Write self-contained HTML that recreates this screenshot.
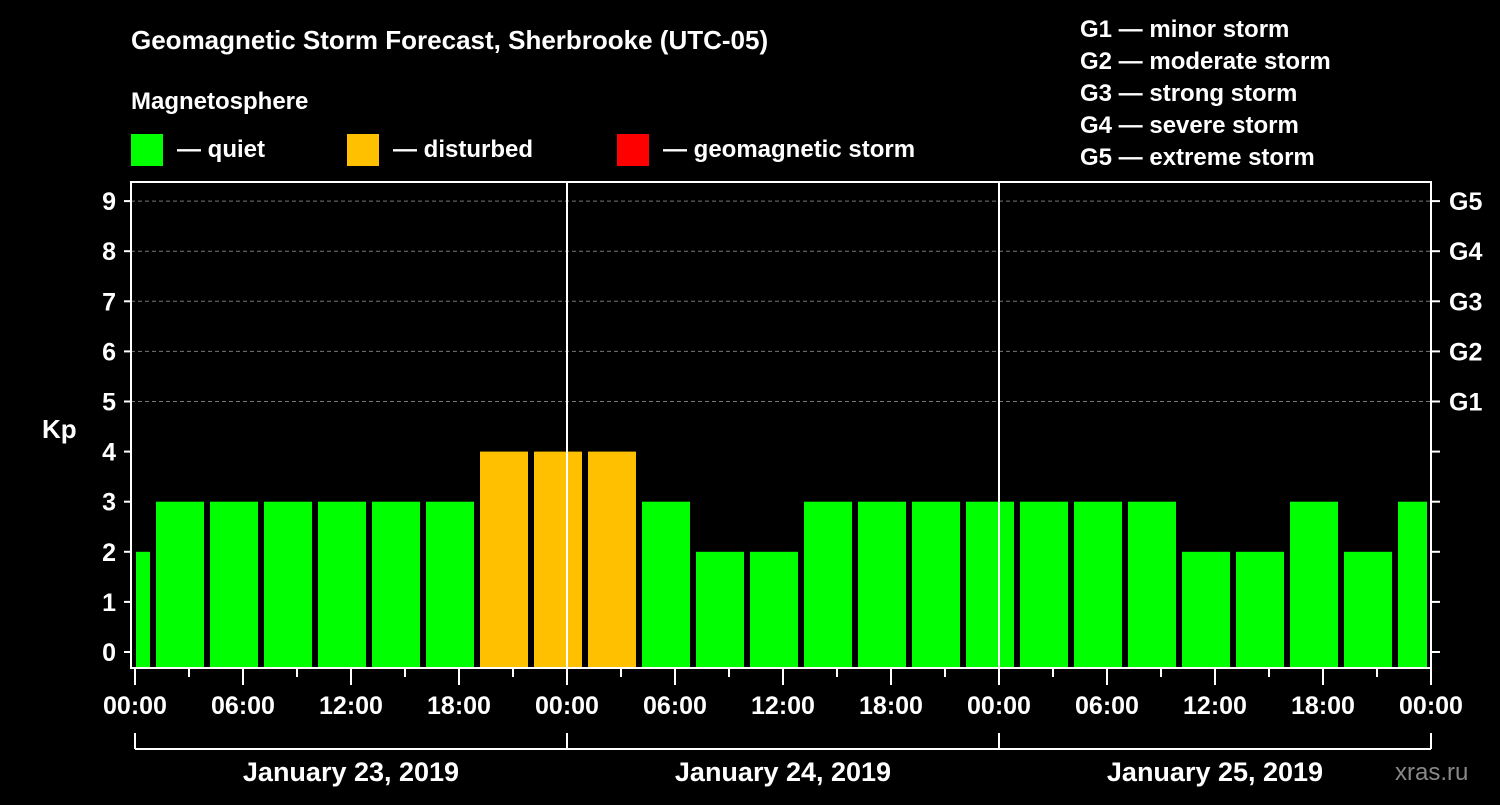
<!DOCTYPE html>
<html><head><meta charset="utf-8"><style>
body{margin:0;background:#000;width:1500px;height:800px;overflow:hidden}
svg text{font-family:"Liberation Sans",sans-serif;font-weight:bold;fill:#fff}
</style></head><body>
<svg id="c" width="1500" height="800">
<text x="131" y="49" font-size="26">Geomagnetic Storm Forecast, Sherbrooke (UTC-05)</text>
<text x="131" y="109" font-size="24">Magnetosphere</text>
<g><rect x="131" y="134" width="32" height="32" fill="#00ff00"/><text x="177" y="157" font-size="24">— quiet</text></g>
<g><rect x="347" y="134" width="32" height="32" fill="#ffc000"/><text x="393" y="157" font-size="24">— disturbed</text></g>
<g><rect x="617" y="134" width="32" height="32" fill="#ff0000"/><text x="663" y="157" font-size="24">— geomagnetic storm</text></g>
<g font-size="24">
<text x="1080" y="37">G1 — minor storm</text><text x="1080" y="69">G2 — moderate storm</text><text x="1080" y="101">G3 — strong storm</text><text x="1080" y="133">G4 — severe storm</text><text x="1080" y="165">G5 — extreme storm</text></g>
<text x="42" y="438" font-size="26">Kp</text>
<text x="1395" y="780" font-size="24" fill="#888" style="fill:#888;font-weight:normal">xras.ru</text>
<g id="grid"></g><g id="bars"></g><g id="axes"></g>
</svg>
<script>
const kpValues=[2,3,3,3,3,3,3,4,4,4,3,2,2,3,3,3,3,3,3,3,2,2,3,2,3];
const yTicks=[0,1,2,3,4,5,6,7,8,9];
const gLabels=["G1","G2","G3","G4","G5"];
const xTickLabels=["00:00","06:00","12:00","18:00","00:00","06:00","12:00","18:00","00:00","06:00","12:00","18:00","00:00"];
const dayLabels=["January 23, 2019","January 24, 2019","January 25, 2019"];
const NS="http://www.w3.org/2000/svg";
const x0=135,pxH=18,xEnd=1431,yBase=652,pxK=50.1;
const X=h=>x0+h*pxH, Y=k=>yBase-k*pxK;
function mk(t,a,p){const e=document.createElementNS(NS,t);for(const k in a)e.setAttribute(k,a[k]);p.appendChild(e);return e;}
const grid=document.getElementById('grid'),bars=document.getElementById('bars'),axes=document.getElementById('axes');
for(let k=5;k<=9;k++){const l=mk('line',{x1:131,x2:1431,y1:Y(k),y2:Y(k),stroke:'#777','stroke-dasharray':'4,3','stroke-width':1},grid);

}
kpValues.forEach((v,i)=>{
 let s=i==0?0:1+(i-1)*3, e=i==0?1:s+3;
 let xa=i==0?X(0)+1:X(s)+3, xb=Math.min(X(e)-3,xEnd-4);
 const c=v>=5?'#ff0000':v>=4?'#ffc000':'#00ff00';
 const r=mk('rect',{x:xa,y:Y(v),width:xb-xa,height:Y(0)-Y(v)+16,fill:c},bars);
 
 
});
[1,2].forEach(d=>{const l=mk('line',{x1:X(24*d),x2:X(24*d),y1:182,y2:668,stroke:'#fff','stroke-width':2},axes);

});
const f=mk('rect',{x:131,y:182,width:1300,height:486,fill:'none',stroke:'#fff','stroke-width':2},axes);


yTicks.forEach(k=>{
 mk('line',{x1:124,x2:131,y1:Y(k),y2:Y(k),stroke:'#fff','stroke-width':2},axes);
 mk('line',{x1:1431,x2:1440,y1:Y(k),y2:Y(k),stroke:'#fff','stroke-width':2},axes);
 const t=mk('text',{x:116,y:Y(k)+9,'font-size':25,'text-anchor':'end'},axes);t.textContent=k;
 
 
});
gLabels.forEach((g,i)=>{const t=mk('text',{x:1449,y:Y(5+i)+9,'font-size':25},axes);t.textContent=g;
 
 });
for(let h=0;h<=72;h+=3){mk('line',{x1:X(h),x2:X(h),y1:668,y2:h%6==0?685:677,stroke:'#fff','stroke-width':2},axes);}
xTickLabels.forEach((s,i)=>{const t=mk('text',{x:X(i*6),y:714,'font-size':25,'text-anchor':'middle'},axes);t.textContent=s;
 
 });
mk('line',{x1:X(0),x2:X(72),y1:749,y2:749,stroke:'#fff','stroke-width':2},axes);
for(let d=0;d<=3;d++)mk('line',{x1:X(24*d),x2:X(24*d),y1:733,y2:749,stroke:'#fff','stroke-width':2},axes);
dayLabels.forEach((s,i)=>{const t=mk('text',{x:X(24*i+12),y:781,'font-size':27,'text-anchor':'middle'},axes);t.textContent=s;
 
 });
</script>
</body></html>
